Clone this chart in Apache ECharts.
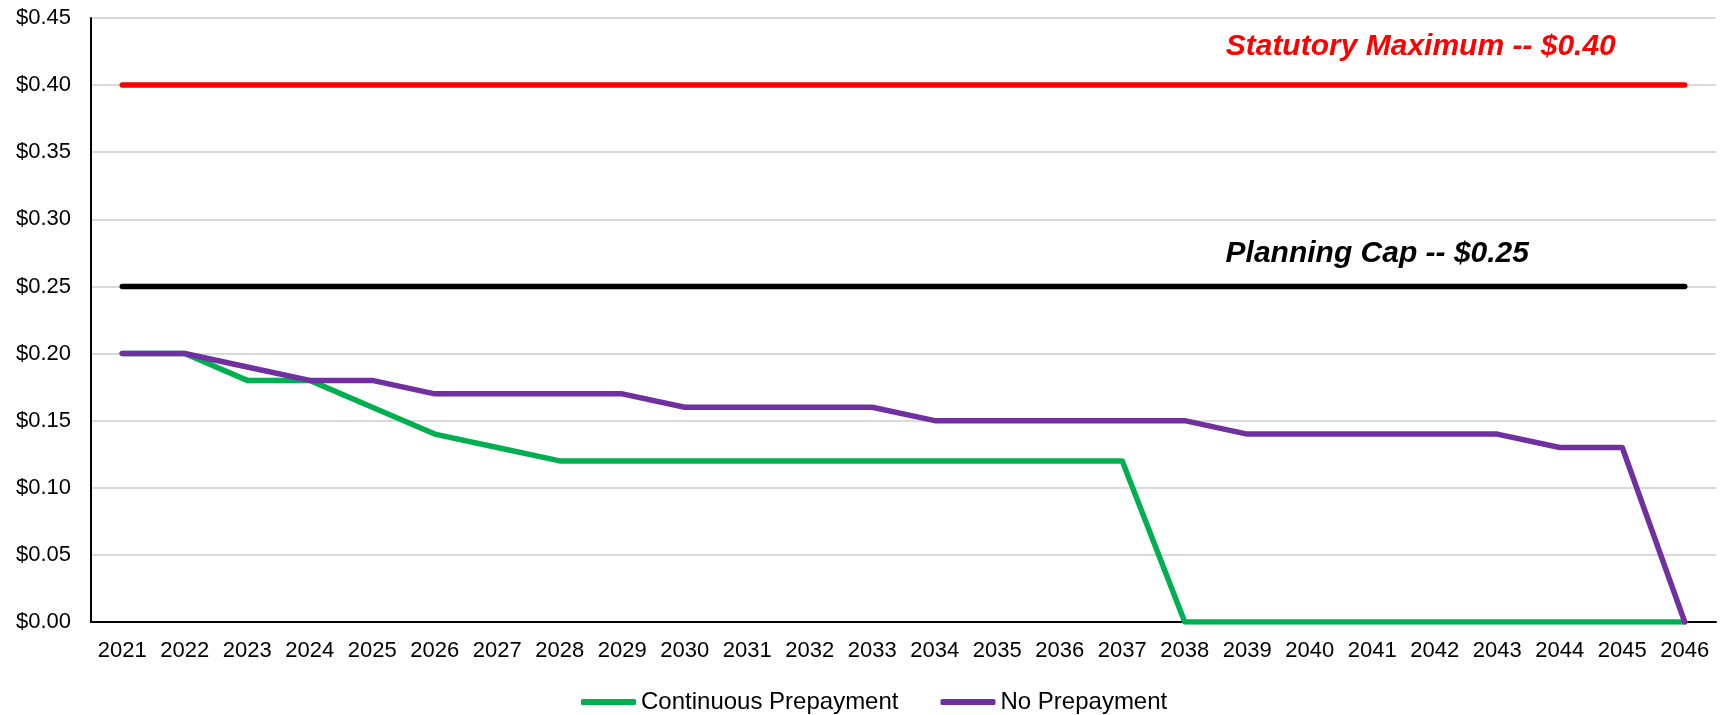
<!DOCTYPE html>
<html>
<head>
<meta charset="utf-8">
<script src="https://cdn.jsdelivr.net/npm/echarts@6/dist/echarts.min.js"></script>
<style>
html,body{margin:0;padding:0;background:#fff;}
#chart{width:1730px;height:715px;}
</style>
</head>
<body>
<div id="chart"></div>
<script>
var years = ['2021','2022','2023','2024','2025','2026','2027','2028','2029','2030','2031','2032','2033','2034','2035','2036','2037','2038','2039','2040','2041','2042','2043','2044','2045','2046'];
var continuousPrepayment = [0.20,0.20,0.18,0.18,0.16,0.14,0.13,0.12,0.12,0.12,0.12,0.12,0.12,0.12,0.12,0.12,0.12,0,0,0,0,0,0,0,0,0];
var noPrepayment = [0.20,0.20,0.19,0.18,0.18,0.17,0.17,0.17,0.17,0.16,0.16,0.16,0.16,0.15,0.15,0.15,0.15,0.15,0.14,0.14,0.14,0.14,0.14,0.13,0.13,0];
var statutoryMax = years.map(function(){return 0.40;});
var planningCap = years.map(function(){return 0.25;});
var statutoryLabel = 'Statutory Maximum -- $0.40';
var planningLabel = 'Planning Cap -- $0.25';
var yTicks = {min:0, max:0.45, interval:0.05};

var FONT = "'Liberation Sans', Arial, sans-serif";
var chart = echarts.init(document.getElementById('chart'), null, {renderer:'canvas'});
chart.setOption({
  animation:false,
  backgroundColor:'#fff',
  grid:{left:91,right:14,top:18,bottom:93,containLabel:false},
  legend:{
    left:581, top:690, padding:0,
    data:['Continuous Prepayment','No Prepayment'],
    icon:'roundRect', itemWidth:55, itemHeight:6, itemGap:42,
    textStyle:{fontFamily:FONT,fontSize:24,color:'#000'}
  },
  xAxis:{
    type:'category', data:years, boundaryGap:true,
    axisLine:{lineStyle:{color:'#000',width:2}},
    axisTick:{show:false},
    axisLabel:{fontFamily:FONT,fontSize:22,color:'#000',margin:18,interval:0}
  },
  yAxis:{
    type:'value', min:yTicks.min, max:yTicks.max, interval:yTicks.interval,
    axisLine:{show:true,lineStyle:{color:'#000',width:2}},
    axisTick:{show:false},
    splitLine:{lineStyle:{color:'#D9D9D9',width:2}},
    axisLabel:{fontFamily:FONT,fontSize:22,color:'#000',margin:20,
      formatter:function(v){return '$'+v.toFixed(2);}}
  },
  series:[
    {name:'Statutory Maximum',type:'line',data:statutoryMax,symbol:'none',
     lineStyle:{color:'#FF0000',width:5.5,cap:'round'},itemStyle:{color:'#FF0000'},
     markPoint:{symbol:'circle',symbolSize:0,silent:true,
       data:[{coord:['2042',0.40],label:{show:true,formatter:statutoryLabel,offset:[-14,-38],
         fontFamily:FONT,fontSize:30,fontWeight:'bold',fontStyle:'italic',color:'#FF0000'}}]}},
    {name:'Planning Cap',type:'line',data:planningCap,symbol:'none',
     lineStyle:{color:'#000',width:5.5,cap:'round'},itemStyle:{color:'#000'},
     markPoint:{symbol:'circle',symbolSize:0,silent:true,
       data:[{coord:['2041',0.25],label:{show:true,formatter:planningLabel,offset:[5,-33],
         fontFamily:FONT,fontSize:30,fontWeight:'bold',fontStyle:'italic',color:'#000'}}]}},
    {name:'Continuous Prepayment',type:'line',data:continuousPrepayment,symbol:'none',
     lineStyle:{color:'#00B050',width:5.5,cap:'round',join:'round'},itemStyle:{color:'#00B050'}},
    {name:'No Prepayment',type:'line',data:noPrepayment,symbol:'none',
     lineStyle:{color:'#7030A0',width:5.5,cap:'round',join:'round'},itemStyle:{color:'#7030A0'}}
  ]
});
</script>
</body>
</html>
